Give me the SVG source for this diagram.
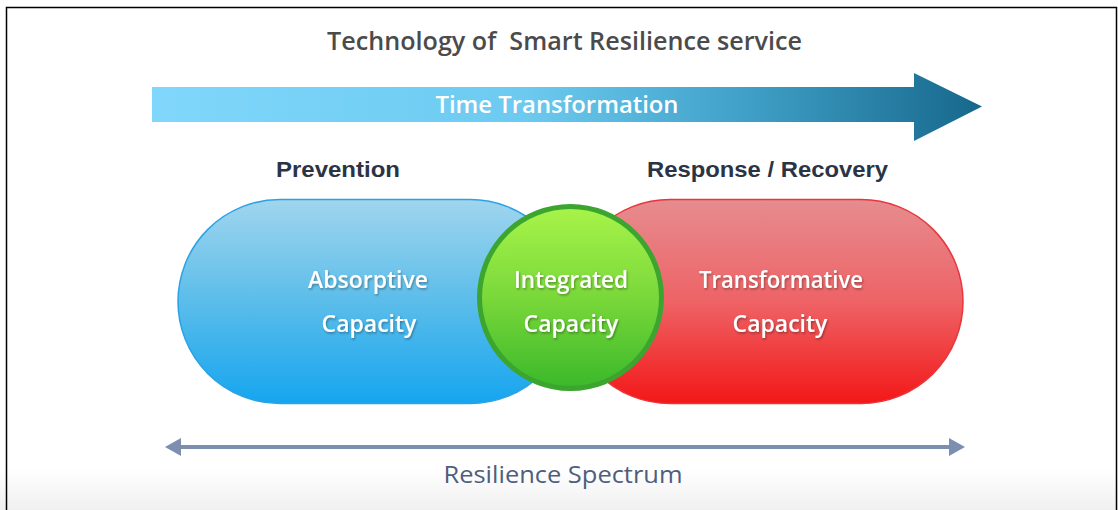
<svg xmlns="http://www.w3.org/2000/svg" width="1118" height="510" viewBox="0 0 1118 510">
  <style>
    .hdr { font-family: "Liberation Sans", Arial, sans-serif; font-weight: bold; font-size: 22px; fill: #2b3444; }
    .cap { font-family: "Open Sans", "Noto Sans", sans-serif; font-weight: 600; font-size: 23px; fill: #ffffff; text-anchor: middle; filter: url(#ts); }
    .title { font-family: "Open Sans", "Noto Sans", sans-serif; font-weight: 600; font-size: 25px; fill: #4b4b4b; white-space: pre; }
    .spec { font-family: "Open Sans", "Noto Sans", sans-serif; font-weight: 400; font-size: 24px; fill: #4f5e7c; text-anchor: middle; }
  </style>
  <defs>
    <linearGradient id="bgGrad" x1="0" y1="0" x2="0" y2="1">
      <stop offset="0.92" stop-color="#ffffff"/>
      <stop offset="1" stop-color="#f0f0f0"/>
    </linearGradient>
    <linearGradient id="timeGrad" x1="152" y1="0" x2="982" y2="0" gradientUnits="userSpaceOnUse">
      <stop offset="0" stop-color="#80d7fb"/>
      <stop offset="0.45" stop-color="#6ccaf0"/>
      <stop offset="0.72" stop-color="#3f9fc6"/>
      <stop offset="1" stop-color="#17678c"/>
    </linearGradient>
    <linearGradient id="blueGrad" x1="0" y1="0" x2="0" y2="1">
      <stop offset="0" stop-color="#a0d5ee"/>
      <stop offset="0.5" stop-color="#5bbdea"/>
      <stop offset="1" stop-color="#16a5ef"/>
    </linearGradient>
    <linearGradient id="redGrad" x1="0" y1="0" x2="0" y2="1">
      <stop offset="0" stop-color="#e68c8f"/>
      <stop offset="0.5" stop-color="#ee6366"/>
      <stop offset="1" stop-color="#f31717"/>
    </linearGradient>
    <linearGradient id="greenGrad" x1="0" y1="0" x2="0" y2="1">
      <stop offset="0" stop-color="#a8f44a"/>
      <stop offset="0.5" stop-color="#7ad83a"/>
      <stop offset="1" stop-color="#3ab82a"/>
    </linearGradient>
    <filter id="ts" x="-10%" y="-30%" width="120%" height="160%">
      <feDropShadow dx="1" dy="1.5" stdDeviation="1" flood-color="#000000" flood-opacity="0.35"/>
    </filter>
    <marker id="ah" viewBox="0 0 16 18" refX="1" refY="9" markerWidth="16" markerHeight="18" markerUnits="userSpaceOnUse" orient="auto-start-reverse">
      <path d="M0,0 L16,9 L0,18 z" fill="#7d8fb0"/>
    </marker>
  </defs>

  <rect x="0" y="0" width="1118" height="510" fill="url(#bgGrad)"/>
  <path d="M6.5,510 V7.5 H1116.5 V510" fill="none" stroke="#000000" stroke-width="1.5"/>

  <g id="title">
    <text class="title" x="327" y="50" textLength="475" lengthAdjust="spacingAndGlyphs">Technology of  Smart Resilience service</text>
  </g>

  <g id="time-transformation">
    <path d="M152,87 H914 V73 L982,106.5 L914,141 V122 H152 z" fill="url(#timeGrad)"/>
    <text class="cap" x="557" y="113" style="filter:none" textLength="243" lengthAdjust="spacingAndGlyphs">Time Transformation</text>
  </g>

  <g id="prevention">
    <text class="hdr" x="276" y="177" textLength="124" lengthAdjust="spacingAndGlyphs">Prevention</text>
  </g>

  <g id="response-recovery">
    <text class="hdr" x="647" y="177" textLength="241" lengthAdjust="spacingAndGlyphs">Response / Recovery</text>
  </g>

  <g id="absorptive">
    <rect x="178" y="199.5" width="394" height="204" rx="102" ry="102" fill="url(#blueGrad)" stroke="#2ba2e4" stroke-width="1.5"/>
    <text class="cap" x="368" y="288" textLength="120" lengthAdjust="spacingAndGlyphs">Absorptive</text>
    <text class="cap" x="369" y="332">Capacity</text>
  </g>

  <g id="transformative">
    <rect x="568" y="199.5" width="395" height="204" rx="102" ry="102" fill="url(#redGrad)" stroke="#e9353b" stroke-width="1.5"/>
    <text class="cap" x="781" y="288" textLength="164" lengthAdjust="spacingAndGlyphs">Transformative</text>
    <text class="cap" x="780" y="332">Capacity</text>
  </g>

  <g id="integrated">
    <circle cx="570.5" cy="297.5" r="91" fill="url(#greenGrad)" stroke="#3ba52f" stroke-width="5"/>
    <text class="cap" x="571" y="288" textLength="114" lengthAdjust="spacingAndGlyphs">Integrated</text>
    <text class="cap" x="571" y="332">Capacity</text>
  </g>

  <g id="connectors">
    <line x1="180" y1="447" x2="950" y2="447" stroke="#7d8fb0" stroke-width="4" marker-start="url(#ah)" marker-end="url(#ah)"/>
  </g>

  <g id="resilience-spectrum">
    <text class="spec" x="563" y="483" textLength="239" lengthAdjust="spacingAndGlyphs">Resilience Spectrum</text>
  </g>
</svg>
